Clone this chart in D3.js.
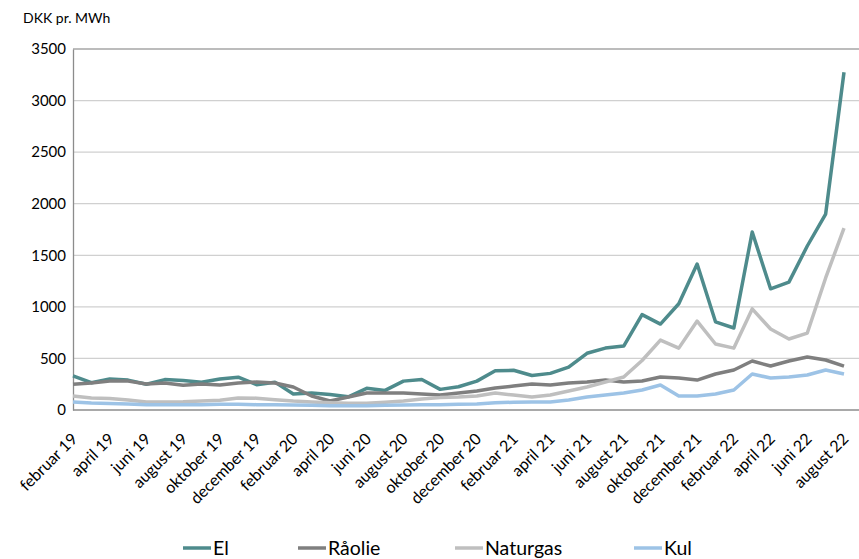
<!DOCTYPE html>
<html>
<head>
<meta charset="utf-8">
<script src="https://cdn.jsdelivr.net/npm/d3@7"></script>
<style>
  body { margin: 0; background: #fff; }
  svg text { font-family: Lato, "Open Sans", sans-serif; fill: #000; }
</style>
</head>
<body>
<div class="viewport"></div>
<script>
var months = [
    "februar 19", "marts 19", "april 19", "maj 19", "juni 19", "juli 19", "august 19", "september 19",
    "oktober 19", "november 19", "december 19", "januar 20", "februar 20", "marts 20", "april 20",
    "maj 20", "juni 20", "juli 20", "august 20", "september 20", "oktober 20", "november 20",
    "december 20", "januar 21", "februar 21", "marts 21", "april 21", "maj 21", "juni 21", "juli 21",
    "august 21", "september 21", "oktober 21", "november 21", "december 21", "januar 22",
    "februar 22", "marts 22", "april 22", "maj 22", "juni 22", "juli 22", "august 22"
];

var el = [330, 265, 300, 290, 250, 295, 285, 270, 300, 318,
          245, 270, 155, 165, 150, 128, 210, 190, 280, 295,
          200, 225, 280, 380, 385, 335, 355, 415, 550, 600,
          620, 925, 833, 1030, 1415, 855, 795, 1725, 1175, 1240,
          1590, 1900, 3275];
var raaolie = [250, 262, 280, 280, 252, 262, 240, 252, 242, 262,
               271, 262, 223, 136, 87, 126, 165, 165, 165, 155,
               145, 165, 184, 213, 232, 252, 242, 262, 271, 290,
               271, 281, 320, 310, 290, 349, 388, 475, 426, 475,
               514, 485, 426];
var naturgas = [136, 116, 112, 97, 78, 78, 80, 87, 95, 116,
                115, 100, 87, 78, 70, 65, 65, 75, 87, 107,
                120, 126, 136, 165, 145, 126, 145, 184, 223, 271,
                320, 480, 678, 600, 862, 640, 600, 980, 785, 688,
                746, 1280, 1764];
var kul = [78, 68, 62, 58, 52, 50, 50, 52, 55, 55,
           52, 50, 48, 45, 40, 40, 42, 45, 48, 50,
           50, 55, 58, 70, 75, 78, 78, 97, 126, 145,
           165, 194, 242, 136, 136, 155, 194, 349, 310, 320,
           339, 388, 349];

var seriesNames = ["El", "Råolie", "Naturgas", "Kul"];
var yTicks = [0, 500, 1000, 1500, 2000, 2500, 3000, 3500];

function drawChart() {

    var width = 859,
        height = 559;

    var left = 73,
        right = 859,
        top = 49,
        bottom = 410;

    var colors = ["#4e8b8c", "#7f7f7f", "#bfbfbf", "#9dc3e6"];
    var series = [el, raaolie, naturgas, kul];

    var svg = d3.select(".viewport").append("svg")
        .attr("width", width)
        .attr("height", height);

    var x = d3.scalePoint().domain(months).range([left, 844]);
    var y = d3.scaleLinear().domain([0, 3500]).range([bottom, top]);

    // gridlines
    svg.append("g").selectAll("line")
        .data(yTicks.slice(1))
        .enter().append("line")
        .attr("x1", left).attr("x2", right)
        .attr("y1", function(d) { return y(d); })
        .attr("y2", function(d) { return y(d); })
        .attr("stroke", function(d) { return d === 3500 ? "#a6a6a6" : "#d0d0d0"; })
        .attr("stroke-width", 1.3);

    // y axis
    var yAxis = svg.append("g")
        .attr("transform", "translate(" + left + ",0)")
        .call(d3.axisLeft(y).tickValues(yTicks).tickFormat(d3.format("d")).tickSize(0).tickPadding(7));
    yAxis.select(".domain").attr("stroke", "#8c8c8c").attr("stroke-width", 1.3);
    yAxis.selectAll("text").style("font-size", "15px");

    svg.append("text")
        .attr("x", 23).attr("y", 23)
        .style("font-size", "14px")
        .text("DKK pr. MWh");

    // lines
    var line = d3.line()
        .x(function(d, i) { return x(months[i]); })
        .y(function(d) { return y(d); });

    svg.append("g").selectAll("path")
        .data(series)
        .enter().append("path")
        .attr("d", line)
        .attr("fill", "none")
        .attr("stroke", function(d, i) { return colors[i]; })
        .attr("stroke-width", 3.5)
        .attr("stroke-linejoin", "round");

    // x axis
    var xAxis = svg.append("g")
        .attr("transform", "translate(0," + bottom + ")")
        .call(d3.axisBottom(x)
            .tickValues(months.filter(function(d, i) { return i % 2 === 0; }))
            .tickSize(0));
    xAxis.select(".domain").attr("d", "M" + left + ",0H" + right)
        .attr("stroke", "#8c8c8c").attr("stroke-width", 1.6);
    xAxis.selectAll("text")
        .style("font-size", "16px")
        .attr("text-anchor", "end")
        .attr("dy", null)
        .attr("y", 0)
        .attr("transform", "translate(5,30) rotate(-45)");

    // legend
    var legendX = [183, 298, 455, 634];
    var lg = svg.append("g").selectAll("g")
        .data(seriesNames)
        .enter().append("g")
        .attr("transform", function(d, i) { return "translate(" + legendX[i] + ",548)"; });
    lg.append("line")
        .attr("x1", 0).attr("x2", 28)
        .attr("stroke", function(d, i) { return colors[i]; })
        .attr("stroke-width", 3.5);
    lg.append("text")
        .attr("x", 30).attr("y", 7)
        .style("font-size", "19.5px")
        .text(function(d) { return d; });
}

drawChart();
</script>
</body>
</html>
